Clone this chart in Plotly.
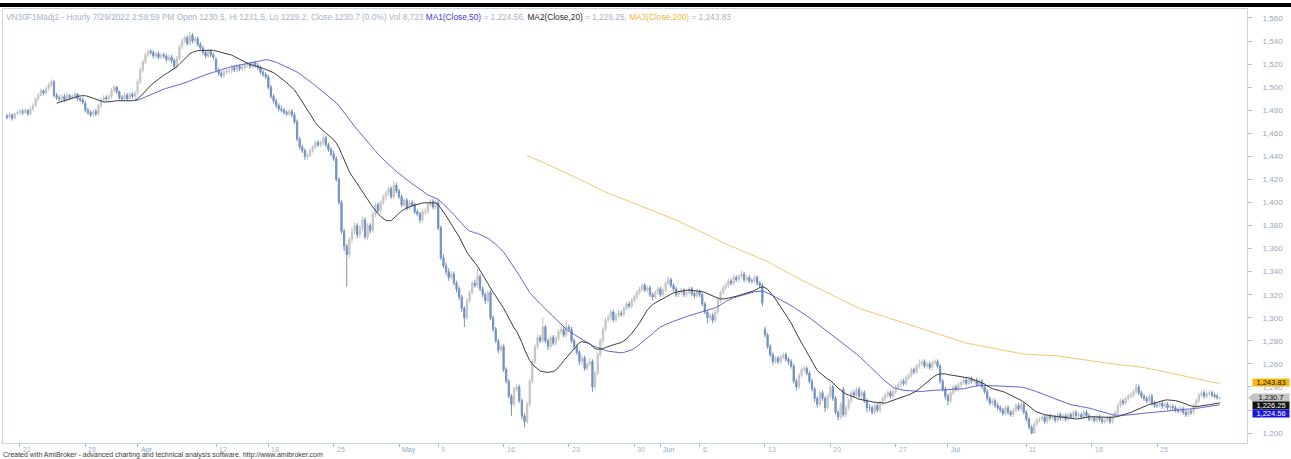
import numpy as np
import pandas as pd
import plotly.graph_objects as go

# ---------------- calendar (hourly bars, 5 per session) ----------------
holidays = ["2022-04-11", "2022-05-02", "2022-05-03"]
trading_days = [d for d in pd.bdate_range("2022-03-18", "2022-07-29")
                if d.strftime("%Y-%m-%d") not in holidays]
session_hours = ["09:00", "10:00", "11:00", "13:00", "14:00"]
bar_dates = [d.strftime("%Y-%m-%d") for d in trading_days for _ in session_hours]

tick_dates = ["2022-03-21", "2022-03-28", "2022-04-01", "2022-04-12", "2022-04-18",
              "2022-04-25", "2022-05-04", "2022-05-09", "2022-05-16", "2022-05-23",
              "2022-05-30", "2022-06-01", "2022-06-06", "2022-06-13", "2022-06-20",
              "2022-06-27", "2022-07-01", "2022-07-11", "2022-07-18", "2022-07-25"]
tick_text = ["21", "28", "Apr", "12", "18", "25", "May", "9", "16", "23",
             "30", "Jun", "6", "13", "20", "27", "Jul", "11", "18", "25"]

price_ticks = [1200, 1220, 1240, 1260, 1280, 1300, 1320, 1340, 1360, 1380, 1400,
               1420, 1440, 1460, 1480, 1500, 1520, 1540, 1560]
hidden_price_labels = [1220]   # covered by the price tags in the original

# ---------------- OHLC (one line per session) ----------------
open_ = [
1475,1474,1476,1473,1477, 1478,1479,1478,1480,1477, 1481,1484,1490,1493,1497, 1495,1499,1502,1505,1493,
1491,1490,1492,1489,1493, 1491,1492,1494,1490,1489, 1486,1480,1478,1476,1479, 1477,1484,1489,1491,1490,
1492,1497,1500,1496,1491, 1490,1493,1490,1494,1492, 1495,1505,1515,1522,1528, 1531,1530,1527,1529,1526,
1528,1527,1524,1526,1523, 1518,1525,1535,1540,1543, 1538,1545,1540,1542,1537, 1534,1530,1527,1531,1528,
1524,1515,1512,1510,1513, 1514,1514,1517,1515,1518, 1516,1517,1519,1520,1518, 1521,1519,1517,1513,1511,
1509,1500,1492,1488,1484, 1481,1480,1478,1477,1479, 1476,1470,1455,1448,1445, 1440,1441,1445,1448,1452,
1450,1452,1456,1450,1446, 1442,1438,1420,1400,1375, 1362,1355,1368,1375,1380, 1372,1378,1385,1370,1380,
1376,1390,1398,1393,1400, 1405,1408,1412,1405,1415, 1410,1405,1398,1402,1395, 1400,1398,1392,1390,1385,
1392,1392,1398,1401,1396, 1400,1378,1352,1345,1340, 1335,1338,1330,1325,1318, 1308,1300,1315,1322,1330,
1328,1336,1325,1320,1315, 1322,1300,1290,1280,1272, 1275,1255,1245,1232,1225, 1238,1240,1228,1215,1210,
1225,1245,1262,1275,1283, 1280,1292,1280,1275,1283, 1278,1282,1288,1290,1285, 1292,1290,1280,1275,1270,
1262,1265,1256,1260,1262, 1240,1252,1268,1280,1290, 1298,1300,1305,1298,1302, 1304,1303,1308,1312,1310,
1315,1318,1322,1325,1328, 1324,1326,1320,1318,1322, 1325,1320,1324,1330,1333, 1328,1325,1320,1322,1324,
1320,1322,1325,1321,1319, 1323,1320,1312,1305,1300, 1302,1298,1305,1315,1322, 1326,1328,1332,1330,1335,
1333,1336,1338,1333,1335, 1332,1332,1335,1330,1328, 1290,1285,1275,1268,1262, 1265,1262,1266,1268,1264,
1262,1258,1245,1240,1250, 1255,1256,1252,1245,1238, 1230,1225,1235,1230,1222, 1232,1240,1230,1218,1214,
1238,1216,1222,1228,1235, 1233,1238,1232,1235,1228, 1222,1222,1218,1224,1220, 1226,1230,1233,1235,1232,
1236,1240,1242,1245,1243, 1248,1250,1255,1253,1258, 1260,1262,1258,1260,1257, 1261,1262,1258,1245,1238,
1232,1228,1235,1240,1238, 1242,1244,1246,1243,1247, 1245,1246,1242,1245,1240, 1236,1230,1226,1228,1224,
1222,1220,1217,1222,1218, 1216,1220,1224,1221,1225, 1218,1212,1205,1200,1208, 1211,1212,1214,1210,1215,
1213,1214,1211,1216,1213, 1215,1212,1216,1214,1218, 1215,1216,1214,1218,1215, 1212,1213,1211,1214,1212,
1210,1211,1213,1210,1215, 1218,1224,1228,1226,1230, 1232,1233,1236,1240,1235, 1232,1230,1228,1232,1226,
1224,1224,1226,1223,1225, 1222,1223,1222,1220,1219, 1221,1218,1216,1219,1218, 1224,1228,1233,1235,1232,
1234,1235,1233,1232,1230.5,
]
high = [
1477,1478,1477,1478,1480, 1481,1481,1482,1481,1483, 1486,1491,1495,1499,1498, 1501,1504,1507,1506,1495,
1493,1494,1494,1495,1494, 1494,1496,1495,1492,1491, 1488,1482,1480,1481,1481, 1486,1491,1493,1493,1494,
1499,1502,1501,1497,1493, 1495,1495,1496,1496,1497, 1507,1517,1524,1530,1533, 1533,1532,1531,1531,1530,
1530,1529,1528,1528,1525, 1527,1537,1542,1545,1545, 1548,1547,1544,1544,1539, 1536,1532,1533,1533,1530,
1526,1517,1514,1515,1516, 1516,1519,1519,1520,1520, 1519,1521,1522,1522,1523, 1523,1521,1519,1515,1513,
1511,1502,1494,1490,1486, 1484,1482,1480,1481,1481, 1478,1472,1457,1450,1447, 1443,1447,1450,1454,1454,
1454,1459,1458,1452,1448, 1445,1440,1422,1402,1377, 1364,1370,1378,1383,1382, 1380,1388,1387,1382,1382,
1392,1400,1400,1402,1407, 1410,1414,1414,1419,1417, 1412,1407,1404,1404,1402, 1402,1400,1394,1392,1394,
1395,1400,1403,1403,1402, 1402,1380,1355,1348,1343, 1341,1340,1332,1327,1320, 1310,1317,1324,1332,1333,
1343,1338,1327,1322,1324, 1324,1302,1292,1282,1277, 1277,1257,1247,1234,1240, 1243,1242,1230,1217,1227,
1247,1264,1277,1286,1285, 1300,1294,1282,1285,1285, 1284,1290,1293,1292,1296, 1294,1292,1282,1277,1272,
1268,1267,1262,1265,1264, 1254,1270,1282,1292,1300, 1303,1307,1307,1304,1307, 1306,1310,1314,1314,1317,
1320,1324,1327,1330,1330, 1328,1328,1322,1324,1327, 1327,1326,1332,1336,1335, 1330,1327,1324,1326,1326,
1324,1327,1327,1323,1325, 1325,1322,1314,1307,1304, 1304,1307,1317,1324,1328, 1330,1334,1334,1337,1337,
1338,1341,1340,1337,1337, 1334,1337,1337,1332,1330, 1292,1287,1277,1270,1267, 1267,1268,1270,1270,1266,
1264,1260,1247,1252,1257, 1258,1258,1254,1247,1240, 1232,1237,1237,1232,1234, 1244,1242,1232,1220,1227,
1240,1224,1230,1237,1237, 1240,1240,1237,1237,1230, 1225,1224,1226,1226,1228, 1232,1235,1237,1237,1238,
1242,1244,1247,1247,1250, 1252,1257,1257,1260,1264, 1264,1264,1262,1262,1263, 1264,1264,1260,1247,1240,
1234,1237,1242,1242,1244, 1246,1248,1248,1249,1249, 1248,1248,1247,1247,1242, 1238,1232,1230,1230,1226,
1224,1222,1224,1224,1220, 1222,1226,1226,1227,1227, 1220,1214,1207,1210,1213, 1214,1216,1216,1217,1217,
1216,1216,1218,1218,1217, 1217,1218,1218,1220,1220, 1218,1218,1220,1220,1217, 1215,1215,1216,1216,1214,
1213,1215,1215,1217,1220, 1226,1230,1230,1232,1234, 1235,1238,1243,1242,1237, 1234,1232,1234,1234,1228,
1226,1228,1228,1227,1227, 1225,1225,1224,1222,1223, 1223,1220,1221,1221,1226, 1230,1235,1237,1237,1236,
1237,1237,1235,1234,1231.5,
]
low = [
1472,1473,1471,1472,1476, 1476,1476,1477,1475,1476, 1479,1483,1488,1492,1493, 1494,1497,1500,1491,1489,
1488,1488,1487,1488,1489, 1489,1490,1488,1487,1485, 1478,1476,1474,1474,1475, 1475,1482,1487,1488,1488,
1490,1495,1494,1489,1488, 1488,1488,1488,1490,1490, 1493,1503,1513,1520,1526, 1528,1525,1525,1524,1524,
1525,1522,1522,1521,1516, 1516,1523,1533,1538,1536, 1536,1538,1538,1535,1532, 1528,1525,1525,1526,1524,
1513,1510,1508,1508,1511, 1512,1512,1513,1513,1514, 1514,1515,1517,1516,1516, 1517,1515,1511,1509,1507,
1498,1490,1486,1482,1479, 1478,1476,1475,1475,1474, 1468,1453,1446,1443,1437, 1437,1439,1443,1446,1448,
1448,1450,1448,1444,1440, 1436,1418,1398,1373,1358, 1327,1352,1365,1372,1369, 1369,1375,1368,1367,1373,
1374,1387,1391,1390,1398, 1402,1406,1403,1403,1408, 1403,1396,1396,1393,1393, 1396,1390,1388,1382,1383,
1389,1390,1396,1394,1394, 1376,1350,1343,1337,1332, 1333,1328,1322,1315,1305, 1292,1298,1313,1320,1326,
1326,1323,1318,1312,1313, 1298,1288,1278,1269,1270, 1253,1243,1230,1215,1223, 1236,1226,1212,1205,1208,
1223,1243,1260,1273,1278, 1278,1278,1272,1273,1276, 1276,1280,1286,1283,1283, 1288,1278,1272,1268,1259,
1259,1254,1254,1258,1236, 1238,1250,1266,1278,1288, 1296,1298,1296,1296,1300, 1301,1301,1306,1308,1308,
1313,1316,1320,1323,1322, 1322,1318,1315,1316,1320, 1318,1318,1322,1328,1326, 1323,1318,1318,1320,1318,
1318,1320,1319,1317,1317, 1318,1310,1303,1295,1297, 1295,1296,1303,1313,1320, 1324,1326,1328,1328,1331,
1331,1334,1331,1331,1330, 1330,1330,1328,1326,1310, 1283,1273,1266,1259,1260, 1260,1260,1264,1262,1259,
1256,1243,1237,1238,1248, 1253,1250,1243,1236,1227, 1222,1223,1228,1218,1220, 1230,1228,1216,1211,1212,
1214,1214,1220,1226,1231, 1231,1230,1230,1226,1218, 1219,1216,1216,1218,1218, 1224,1228,1231,1230,1230,
1234,1238,1240,1241,1241, 1246,1248,1251,1251,1256, 1258,1256,1256,1255,1255, 1259,1256,1243,1236,1229,
1224,1226,1233,1236,1236, 1240,1242,1241,1241,1243, 1243,1240,1240,1238,1234, 1228,1224,1224,1222,1220,
1218,1215,1215,1216,1214, 1214,1218,1219,1219,1216, 1210,1203,1199,1199,1206, 1209,1210,1208,1208,1211,
1211,1209,1209,1211,1211, 1210,1210,1212,1212,1213, 1213,1212,1212,1213,1210, 1210,1209,1209,1210,1208,
1208,1209,1208,1208,1213, 1216,1222,1224,1224,1228, 1230,1231,1234,1233,1230, 1228,1226,1226,1224,1222,
1222,1222,1221,1221,1220, 1220,1220,1218,1217,1217, 1216,1214,1214,1216,1216, 1222,1226,1231,1230,1230,
1232,1231,1230,1229,1229.2,
]
close = [
1474,1476,1473,1477,1478, 1479,1478,1480,1477,1481, 1484,1490,1493,1497,1495, 1499,1502,1505,1493,1491,
1490,1492,1489,1493,1491, 1492,1494,1490,1489,1487, 1480,1478,1476,1479,1477, 1484,1489,1491,1490,1492,
1497,1500,1496,1491,1490, 1493,1490,1494,1492,1495, 1505,1515,1522,1528,1531, 1530,1527,1529,1526,1528,
1527,1524,1526,1523,1518, 1525,1535,1540,1543,1538, 1545,1540,1542,1537,1534, 1530,1527,1531,1528,1526,
1515,1512,1510,1513,1514, 1514,1517,1515,1518,1516, 1517,1519,1520,1518,1521, 1519,1517,1513,1511,1509,
1500,1492,1488,1484,1481, 1480,1478,1477,1479,1476, 1470,1455,1448,1445,1440, 1441,1445,1448,1452,1450,
1452,1456,1450,1446,1442, 1438,1420,1400,1375,1362, 1355,1368,1375,1380,1372, 1378,1385,1370,1380,1376,
1390,1398,1393,1400,1405, 1408,1412,1405,1415,1410, 1405,1398,1402,1395,1400, 1398,1392,1390,1385,1392,
1392,1398,1401,1396,1400, 1378,1352,1345,1340,1335, 1338,1330,1325,1318,1308, 1300,1315,1322,1330,1328,
1336,1325,1320,1315,1322, 1300,1290,1280,1272,1275, 1255,1245,1232,1225,1238, 1240,1228,1215,1210,1225,
1245,1262,1275,1283,1280, 1292,1280,1275,1283,1278, 1282,1288,1290,1285,1292, 1290,1280,1275,1270,1262,
1265,1256,1260,1262,1240, 1252,1268,1280,1290,1298, 1300,1305,1298,1302,1304, 1303,1308,1312,1310,1315,
1318,1322,1325,1328,1324, 1326,1320,1318,1322,1325, 1320,1324,1330,1333,1328, 1325,1320,1322,1324,1320,
1322,1325,1321,1319,1323, 1320,1312,1305,1300,1302, 1298,1305,1315,1322,1326, 1328,1332,1330,1335,1333,
1336,1338,1333,1335,1332, 1332,1335,1330,1328,1313, 1285,1275,1268,1262,1265, 1262,1266,1268,1264,1262,
1258,1245,1240,1250,1255, 1256,1252,1245,1238,1230, 1225,1235,1230,1222,1232, 1240,1230,1218,1214,1225,
1216,1222,1228,1235,1233, 1238,1232,1235,1228,1222, 1222,1218,1224,1220,1226, 1230,1233,1235,1232,1236,
1240,1242,1245,1243,1248, 1250,1255,1253,1258,1260, 1262,1258,1260,1257,1261, 1262,1258,1245,1238,1232,
1228,1235,1240,1238,1242, 1244,1246,1243,1247,1245, 1246,1242,1245,1240,1236, 1230,1226,1228,1224,1222,
1220,1217,1222,1218,1216, 1220,1224,1221,1225,1218, 1212,1205,1200,1208,1211, 1212,1214,1210,1215,1213,
1214,1211,1216,1213,1215, 1212,1216,1214,1218,1215, 1216,1214,1218,1215,1212, 1213,1211,1214,1212,1210,
1211,1213,1210,1215,1218, 1224,1228,1226,1230,1232, 1233,1236,1240,1235,1232, 1230,1228,1232,1226,1224,
1224,1226,1223,1225,1222, 1223,1222,1220,1219,1221, 1218,1216,1219,1218,1224, 1228,1233,1235,1232,1234,
1235,1233,1232,1231,1230.7,
]

n = len(bar_dates)
assert len(open_) == n and len(high) == n and len(low) == n and len(close) == n, (n, len(open_), len(high), len(low), len(close))

# last-bar readings shown in the header / price tags
last_ma50, last_ma20, last_ma200, last_close = 1224.56, 1226.25, 1243.83, 1230.7

idx = np.arange(n)
cs = pd.Series(close, dtype=float)
ma50 = cs.rolling(50).mean()
ma20 = cs.rolling(20).mean()
ma200 = cs.rolling(200).mean()

tick_idx = [bar_dates.index(d) for d in tick_dates]
price_tick_text = ["" if v in hidden_price_labels else f"{v:,}" for v in price_ticks]

FONT = "Liberation Sans, Arial, sans-serif"
fig = go.Figure()
fig.add_trace(go.Candlestick(
    x=idx, open=open_, high=high, low=low, close=close,
    increasing=dict(line=dict(color="#c3c3c3", width=1), fillcolor="#d3d3d3"),
    decreasing=dict(line=dict(color="#7392c0", width=1), fillcolor="#7392c0"),
    whiskerwidth=0, hoverinfo="skip", showlegend=False))
fig.add_trace(go.Scatter(x=idx, y=ma200, mode="lines", line=dict(color="#f6c66a", width=1), hoverinfo="skip"))
fig.add_trace(go.Scatter(x=idx, y=ma50, mode="lines", line=dict(color="#6464d6", width=1), hoverinfo="skip"))
fig.add_trace(go.Scatter(x=idx, y=ma20, mode="lines", line=dict(color="#3c3c3c", width=1), hoverinfo="skip"))

grey = "#a9b1c3"
title = (f"<span style='color:{grey}'>VN30F1Madj2 - Hourly 7/29/2022 2:59:59 PM Open 1230.5, Hi 1231.5, "
         f"Lo 1229.2, Close 1230.7 (0.0%) Vol 8,723 </span>"
         f"<span style='color:#3b3bcf'>MA1(Close,50)</span><span style='color:{grey}'> = 1,224.56, </span>"
         f"<span style='color:#2a2a2a'>MA2(Close,20)</span><span style='color:{grey}'> = 1,226.25, </span>"
         f"<span style='color:#f3b53c'>MA3(Close,200)</span><span style='color:{grey}'> = 1,243.83</span>")
ann = [
    dict(text=title, xref="paper", yref="paper", x=0, y=1, xanchor="left", yanchor="top",
         xshift=1, yshift=-1, showarrow=False, font=dict(family=FONT, size=8.3)),
    dict(text="Created with AmiBroker - advanced charting and technical analysis software. http://www.amibroker.com",
         xref="paper", yref="paper", x=0, y=-0.027, xanchor="left", yanchor="middle",
         xshift=-2, showarrow=False, font=dict(family=FONT, size=7, color="#3a3a3a")),
]
for ti, tt in zip(tick_idx, tick_text):
    is_month = not tt.isdigit()
    ann.append(dict(text=tt, x=ti, xref="x", y=0, yref="paper", xanchor="left", yanchor="top",
                    xshift=1, yshift=-1, showarrow=False,
                    font=dict(family=FONT, size=7, color="#8d9fc4" if is_month else "#a8b3c8")))

tags = [(last_ma200, "1,243.83", "#f5b80f", "#111111", 0),
        (last_close, "1,230.7", "#c4c4c4", "#111111", 0),
        (last_ma20, "1,226.25", "#141414", "#ffffff", -3),
        (last_ma50, "1,224.56", "#1717e0", "#ffffff", -9)]
for val, txt, bg, fc, ys in tags:
    ann.append(dict(text=txt, x=1, xref="paper", y=val, yref="y", xanchor="left", yanchor="middle",
                    xshift=5, yshift=ys, showarrow=False, bgcolor=bg, borderpad=0,
                    width=36, height=7, align="center",
                    font=dict(family=FONT, size=7.5, color=fc)))

shapes = [
    dict(type="rect", xref="paper", yref="paper", x0=-0.01, x1=1.04, y0=1 + 2 / 434, y1=1 + 6 / 434,
         fillcolor="#000000", line=dict(width=0), layer="above"),
    dict(type="path", xref="paper", yref="y", xsizemode="pixel", ysizemode="pixel",
         xanchor=1, yanchor=last_close, path="M 1,0 L 6,4 L 6,-4 Z",
         fillcolor="#c4c4c4", line=dict(width=0)),
]

fig.update_layout(
    width=1291, height=459, margin=dict(l=3, r=44, t=9, b=16),
    paper_bgcolor="white", plot_bgcolor="white", showlegend=False, hovermode=False,
    font=dict(family=FONT, size=8, color="#9aa4b6"),
    annotations=ann, shapes=shapes,
    xaxis=dict(range=[-1.5, 474.4], showgrid=False, zeroline=False, showline=True, mirror=True,
               linecolor="#c9d5e6", linewidth=1, ticks="outside", ticklen=3, tickcolor="#a7b5cc",
               tickvals=tick_idx, showticklabels=False, rangeslider=dict(visible=False)),
    yaxis=dict(side="right", range=[1191.4, 1567.8], showgrid=False, zeroline=False, showline=True,
               mirror=True, linecolor="#c9d5e6", linewidth=1, ticks="outside", ticklen=4,
               tickcolor="#b3bfd2", tickvals=price_ticks, ticktext=price_tick_text,
               tickfont=dict(family=FONT, size=8, color="#9ba5b7"), ticklabelstandoff=9),
)
fig.write_html("out.html", config={"displayModeBar": False},
               post_script="document.body.style.margin='0px';document.body.style.overflow='hidden';")
